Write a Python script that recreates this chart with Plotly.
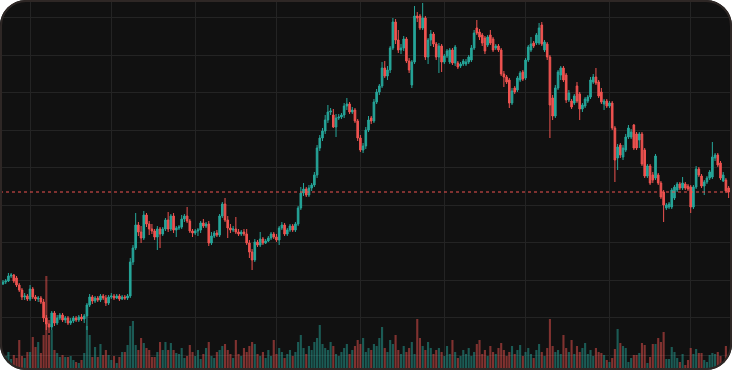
import plotly.graph_objects as go
import pandas as pd

W, H = 732, 370

start_date = "2023-03-22"

open_ = [116,118,119,124,125,122,115,110,103,104,101,111,103,101,102,98,82,76,73,87,
         77,82,85,80,82,77,79,82,80,83,81,84,95,103,99,102,100,104,102,97,
         103,104,102,104,101,103,102,104,138,152,175,168,162,185,176,171,169,163,171,166,
         171,180,171,184,170,172,173,181,184,179,169,167,169,170,177,174,176,157,164,167,
         165,184,196,180,172,170,171,168,166,168,166,157,148,140,158,155,161,157,159,162,
         166,163,160,172,175,166,170,174,170,176,192,207,211,205,212,215,225,252,262,269,
         280,288,285,273,282,283,285,294,296,288,290,279,262,250,254,270,282,279,298,308,
         314,332,324,330,352,378,360,350,352,361,339,315,338,384,384,372,382,343,360,366,
         356,343,354,338,344,338,350,337,337,334,336,336,338,340,352,372,368,365,362,355,
         365,361,352,354,350,326,323,320,297,312,310,320,328,322,340,350,357,357,357,375,
         350,356,343,302,284,312,325,332,325,300,299,297,314,306,291,294,299,303,318,323,
         318,308,296,299,294,297,272,242,255,243,250,263,263,275,266,260,266,250,224,234,
         225,222,225,217,208,192,193,193,202,210,216,212,216,214,213,193,213,231,224,214,
         218,222,223,242,245,237,219,220,212]
high = [120,121,127,127,126,124,117,112,107,106,115,113,105,104,104,101,85,80,89,89,
        85,87,87,84,84,82,84,84,85,86,86,97,106,105,104,104,106,106,105,105,
        107,106,106,106,105,105,106,142,155,187,178,174,189,187,179,176,171,174,173,173,
        182,188,186,187,174,175,185,186,193,181,171,171,172,179,181,178,179,168,169,170,
        186,198,202,184,176,174,183,171,170,171,171,160,151,161,160,168,163,161,164,168,
        168,166,174,178,177,172,176,176,178,194,213,217,213,215,217,228,255,265,272,285,
        295,292,291,286,286,287,297,302,298,293,292,281,265,257,273,284,284,301,311,316,
        338,339,334,354,382,381,370,356,364,363,342,340,394,388,386,397,384,362,370,368,
        358,357,356,346,351,352,352,355,339,338,341,341,345,355,370,380,371,367,364,365,
        370,363,356,356,352,329,325,322,312,314,324,329,330,342,355,363,359,367,377,378,
        360,358,345,305,315,330,334,334,327,310,301,306,318,308,297,303,305,323,326,332,
        320,312,301,301,299,299,274,256,257,255,266,275,271,276,268,268,268,252,236,236,
        228,246,227,219,210,197,198,212,215,218,218,223,218,216,215,215,234,233,226,220,
        224,230,258,247,247,239,228,222,214]
low = [115,116,118,122,117,113,108,100,100,99,99,101,99,98,96,78,70,67,70,74,
       75,80,78,77,75,75,77,78,78,79,77,70,93,96,97,98,98,100,94,95,
       101,100,101,99,100,100,100,102,135,150,164,157,160,173,165,166,160,150,152,164,
       169,168,169,167,163,170,171,178,177,167,163,165,164,167,172,172,154,155,162,163,
       163,182,178,162,167,168,166,164,164,164,155,142,130,138,153,153,155,156,158,160,
       161,158,155,170,164,164,168,168,168,174,190,204,203,203,209,213,222,249,259,266,
       277,285,272,263,280,281,282,290,286,286,277,259,248,247,251,268,276,277,296,305,
       312,322,320,327,350,356,347,346,349,337,327,312,336,378,370,370,340,336,354,353,
       340,327,328,336,342,336,335,334,331,332,334,334,336,338,350,365,360,354,346,353,
       355,348,350,348,324,313,316,292,295,306,308,318,319,320,338,348,352,355,355,354,
       348,340,262,280,282,310,320,318,297,298,291,295,297,280,288,292,297,301,316,315,
       302,296,290,292,292,270,218,230,242,240,248,261,261,250,250,252,234,222,222,215,
       217,220,215,201,178,190,191,191,200,208,210,210,210,209,187,191,211,223,212,205,
       216,220,221,239,233,220,218,207,202]
close = [118,119,124,125,119,115,110,103,104,101,111,103,101,102,98,82,76,73,87,77,
         82,85,80,82,77,79,82,80,83,81,84,95,103,99,102,100,104,102,97,103,
         104,102,104,101,103,102,104,138,152,175,168,162,185,176,171,169,163,171,166,171,
         180,171,184,170,172,173,181,184,179,169,167,169,170,177,174,176,157,164,167,165,
         184,196,180,172,170,171,168,166,168,166,157,148,140,158,155,161,157,159,162,166,
         163,160,172,175,166,170,174,170,176,192,207,211,205,212,215,225,252,262,269,280,
         288,289,273,282,283,285,294,296,288,290,279,262,250,254,270,280,279,298,308,314,
         332,324,330,352,378,360,350,352,361,339,330,338,384,382,372,382,343,360,366,356,
         343,354,338,344,349,350,337,353,333,336,339,338,343,352,367,367,363,357,349,363,
         357,350,354,350,326,323,318,297,309,308,322,327,321,340,353,356,354,365,372,356,
         358,343,295,284,312,328,332,320,300,307,293,304,299,291,295,301,303,320,323,317,
         304,298,299,294,297,272,240,253,245,252,263,272,268,252,252,266,236,224,234,217,
         220,244,217,203,195,195,196,210,213,216,212,217,212,211,193,213,231,225,214,218,
         222,228,243,245,235,222,225,209,208]

volume = [14,12,16,9,13,10,28,12,10,16,16,31,21,26,15,33,92,33,38,18,
          15,11,13,11,11,12,8,6,5,8,15,42,33,11,21,11,24,13,18,13,
          8,12,5,11,16,16,23,42,47,23,18,30,25,20,18,11,11,16,26,18,
          26,18,25,18,15,
          14,20,10,12,23,16,12,18,9,14,20,
          26,12,10,16,18,22,24,18,14,10,28,14,12,20,16,
          22,26,24,14,12,16,10,18,12,28,14,20,16,10,14,18,12,16,26,33,
          20,14,22,18,26,30,43,24,20,18,26,22,14,12,16,20,24,14,18,22,28,24,30,16,20,
          18,24,22,30,41,20,16,28,24,33,18,14,22,16,20,26,14,49,30,22,18,26,20,14,18,
          20,16,12,22,14,28,16,10,12,18,14,20,12,16,24,28,14,18,12,22,16,14,20,25,18,
          12,16,22,14,18,23,12,16,20,14,10,18,24,16,12,20,49,22,16,18,14,33,20,16,28,14,22,16,20,25,14,18,12,20,16,
          15,13,8,6,10,19,39,25,22,20,6,10,13,13,15,25,23,5,11,24,24,30,26,36,9,9,21,16,10,6,
          14,3,8,20,14,19,15,15,8,6,13,15,14,16,12,5,22,10]

n = len(close)
assert len(open_) == n and len(high) == n and len(low) == n and len(volume) == n, (
    len(open_), len(high), len(low), len(close), len(volume))

dates = pd.date_range(start_date, periods=n, freq="D")
high = [max(h, o, c) for h, o, c in zip(high, open_, close)]
low = [min(l, o, c) for l, o, c in zip(low, open_, close)]

UP = "#26a69a"
DOWN = "#ef5350"
vol_colors = ["rgba(38,166,154,0.5)" if c >= o else "rgba(239,83,80,0.5)"
              for o, c in zip(open_, close)]

fig = go.Figure()
fig.add_trace(go.Bar(x=dates, y=volume, marker=dict(color=vol_colors, line=dict(width=0)),
                     yaxis="y", hoverinfo="skip", showlegend=False))
fig.add_trace(go.Candlestick(x=dates, open=open_, high=high, low=low, close=close,
                             yaxis="y2", showlegend=False,
                             increasing=dict(line=dict(color=UP, width=1), fillcolor=UP),
                             decreasing=dict(line=dict(color=DOWN, width=1), fillcolor=DOWN),
                             whiskerwidth=0))

last_price = close[-1]

def px_to_paper(x, y):
    return x / W, 1 - y / H

def path_from_px(points_cmds):
    out = []
    for cmd, pts in points_cmds:
        coords = " ".join("%.5f,%.5f" % px_to_paper(*p) for p in pts)
        out.append(cmd + " " + coords if coords else cmd)
    return " ".join(out)

R = 26
k = 0.5523 * R
shapes = []
corners = [
    [("M", [(0, 0)]), ("L", [(0, R)]), ("C", [(0, R - k), (R - k, 0), (R, 0)]), ("Z", [])],
    [("M", [(W, 0)]), ("L", [(W - R, 0)]), ("C", [(W - R + k, 0), (W, R - k), (W, R)]), ("Z", [])],
    [("M", [(W, H)]), ("L", [(W, H - R)]), ("C", [(W, H - R + k), (W - R + k, H), (W - R, H)]), ("Z", [])],
    [("M", [(0, H)]), ("L", [(R, H)]), ("C", [(R - k, H), (0, H - R + k), (0, H - R)]), ("Z", [])],
]
for c in corners:
    shapes.append(dict(type="path", xref="paper", yref="paper", path=path_from_px(c),
                       fillcolor="white", line=dict(width=0), layer="above"))

a = 1.0
r = R - a
kk = 0.5523 * r
outline = [
    ("M", [(a, a + r)]),
    ("C", [(a, a + r - kk), (a + r - kk, a), (a + r, a)]),
    ("L", [(W - a - r, a)]),
    ("C", [(W - a - r + kk, a), (W - a, a + r - kk), (W - a, a + r)]),
    ("L", [(W - a, H - a - r)]),
    ("C", [(W - a, H - a - r + kk), (W - a - r + kk, H - a), (W - a - r, H - a)]),
    ("L", [(a + r, H - a)]),
    ("C", [(a + r - kk, H - a), (a, H - a - r + kk), (a, H - a - r)]),
    ("Z", []),
]
shapes.append(dict(type="path", xref="paper", yref="paper", path=path_from_px(outline),
                   line=dict(color="#2e2725", width=2), fillcolor="rgba(0,0,0,0)", layer="above"))

shapes.insert(0, dict(type="line", xref="paper", yref="y2", x0=0, x1=1,
                      y0=last_price, y1=last_price,
                      line=dict(color=DOWN, width=1, dash="dot"), layer="above"))

GRID = "#242424"
fig.update_layout(
    width=W, height=H,
    margin=dict(l=0, r=0, t=0, b=0),
    paper_bgcolor="#111111",
    plot_bgcolor="#111111",
    bargap=0.22,
    boxgap=0.15,
    showlegend=False,
    xaxis=dict(type="date", range=["2023-03-20 21:25", "2023-12-16 06:00"],
               showgrid=True, gridcolor=GRID, gridwidth=1,
               dtick="M1", tick0="2023-04-01",
               showticklabels=False, ticks="", zeroline=False,
               rangeslider=dict(visible=False), showline=False, fixedrange=True),
    yaxis=dict(range=[-2, 368], showgrid=False, showticklabels=False, ticks="",
               zeroline=False, showline=False, fixedrange=True),
    yaxis2=dict(range=[30, 400], overlaying="y", side="right",
                showgrid=True, gridcolor=GRID, gridwidth=1,
                tick0=7.5, dtick=37.5,
                showticklabels=False, ticks="", zeroline=False, showline=False,
                fixedrange=True),
    shapes=shapes,
)

fig.write_html("out.html", config={"displayModeBar": False},
               post_script="document.body.style.margin='0';document.body.style.overflow='hidden';")
